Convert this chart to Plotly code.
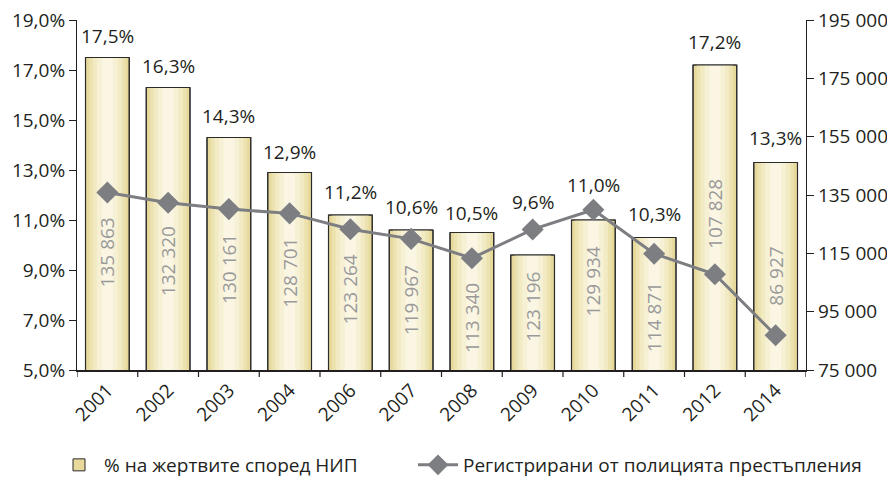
import plotly.graph_objects as go

years = ["2001", "2002", "2003", "2004", "2006", "2007", "2008", "2009", "2010", "2011", "2012", "2014"]
victims_pct = [17.5, 16.3, 14.3, 12.9, 11.2, 10.6, 10.5, 9.6, 11.0, 10.3, 17.2, 13.3]
crimes = [135863, 132320, 130161, 128701, 123264, 119967, 113340, 123196, 129934, 114871, 107828, 86927]
# vertical position (in % axis units) of the rotated crime-count labels inside the bars
crime_label_pos = [9.72, 9.36, 9.04, 8.88, 8.24, 7.8, 7.08, 7.52, 8.56, 7.12, 11.24, 8.76]
# pixel lift of the percentage labels above the bar tops
pct_label_lift = [22, 22, 22, 21, 23, 23, 20, 53, 35, 24, 23, 25]
pct_ticks = [5, 7, 9, 11, 13, 15, 17, 19]
crime_ticks = [75000, 95000, 115000, 135000, 155000, 175000, 195000]

bar_name = "% на жертвите според НИП"
line_name = "Регистрирани от полицията престъпления"

FONT = "Open Sans"
TXT = "#231f20"
FS = 19

# the page body keeps its default 8px margin, so the figure is sized to fit the window
W, H = 887, 469

def pct_fmt(v):
    return f"{v:.1f}%".replace(".", ",")

def num_fmt(v):
    return f"{v:,}".replace(",", " ")

pct_text = [pct_fmt(v) for v in victims_pct]
crime_text = [num_fmt(v) for v in crimes]
idx = list(range(len(years)))

fig = go.Figure()

# gradient fill layers (edge -> centre)
layers = [(0.72, "#e6d99b"), (0.6, "#ece2b0"), (0.48, "#f1eac3"), (0.34, "#f6f0d4"), (0.18, "#faf6e3")]
for i, (w, c) in enumerate(layers):
    fig.add_trace(go.Bar(
        x=idx, y=victims_pct, width=w, yaxis="y",
        marker=dict(color=c, line=dict(width=1, color="#2b2b2b") if i == 0 else dict(width=0)),
        name=bar_name, showlegend=(i == 0), legend="legend", hoverinfo="skip",
    ))

# outline
fig.add_trace(go.Bar(
    x=idx, y=victims_pct, width=0.72, yaxis="y",
    marker=dict(color="rgba(0,0,0,0)", line=dict(width=1.2, color="#2b2b2b")),
    showlegend=False, name=bar_name,
))

fig.add_trace(go.Scatter(
    x=idx, y=crimes, yaxis="y2", mode="lines+markers",
    line=dict(color="#7d7e82", width=3),
    marker=dict(symbol="diamond", size=17, color="#7d7e82"),
    name=line_name, legend="legend2",
))

for i, v, t, lift in zip(idx, victims_pct, pct_text, pct_label_lift):
    fig.add_annotation(x=i, y=v, xref="x", yref="y", text=t, yshift=lift,
                       showarrow=False, font=dict(family=FONT, size=FS, color=TXT))

for i, pos, t in zip(idx, crime_label_pos, crime_text):
    fig.add_annotation(x=i, y=pos, xref="x", yref="y", text=t, textangle=-90,
                       showarrow=False, font=dict(family=FONT, size=FS, color="#9a9a9a"))

fig.update_layout(
    width=W, height=H,
    margin=dict(l=69, r=89, t=12, b=107, autoexpand=False),
    paper_bgcolor="white", plot_bgcolor="white",
    barmode="overlay",
    font=dict(family=FONT, size=FS, color=TXT),
    xaxis=dict(range=[-0.5, len(years) - 0.5], tickvals=idx, ticktext=years, automargin=False,
               showline=True, linecolor="#231f20", linewidth=1.5, ticklabeloverflow="allow",
               ticks="", tickangle=-45, tickfont=dict(size=FS), showgrid=False, zeroline=False),
    yaxis=dict(range=[5, 19], tickvals=pct_ticks, ticktext=[pct_fmt(v) for v in pct_ticks],
               showline=True, linecolor="#231f20", linewidth=1.2, automargin=False,
               ticklabeloverflow="allow",
               ticks="outside", ticklen=7, tickcolor="#231f20",
               showgrid=False, zeroline=False, tickfont=dict(size=FS)),
    yaxis2=dict(range=[75000, 195000], tickvals=crime_ticks, ticktext=[num_fmt(v) for v in crime_ticks],
                overlaying="y", side="right", showline=True, automargin=False,
                ticklabeloverflow="allow",
                linecolor="#231f20", linewidth=1.2, ticks="outside", ticklen=7,
                tickcolor="#231f20", showgrid=False, zeroline=False, tickfont=dict(size=FS)),
    legend=dict(orientation="h", xref="container", yref="container", x=46 / W, xanchor="left",
                y=12 / H, yanchor="middle",
                font=dict(size=FS), itemwidth=40, bgcolor="rgba(0,0,0,0)"),
    legend2=dict(orientation="h", xref="container", yref="container", x=405 / W, xanchor="left",
                 y=12 / H, yanchor="middle",
                 font=dict(size=FS), itemwidth=40, bgcolor="rgba(0,0,0,0)"),
)

# category boundary ticks on the x axis
for b in [i - 0.5 for i in range(len(years) + 1)]:
    fig.add_shape(type="line", xref="x", yref="paper", x0=b, x1=b, y0=0, y1=-0.02,
                  line=dict(color="#231f20", width=1.2))

fig.write_html("out.html")
